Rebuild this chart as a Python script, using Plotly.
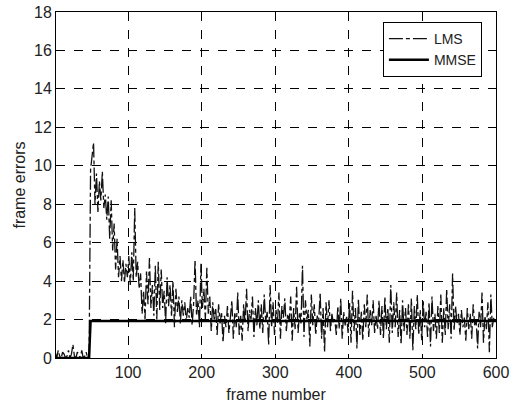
import plotly.graph_objects as go

# frame numbers (every second frame sampled)
frames = list(range(1, 601, 2))

lms_errors = [
    0.3, 0.0, 0.4, 0.1, 0.0, 0.3, 0.2, 0.0, 0.1, 0.4, 0.0, 0.2, 0.7, 0.1, 0.0, 0.3, 0.2, 0.0, 0.4, 0.0,
    0.1, 0.3, 0.0, 0.2, 9.8, 10.4, 11.2, 8.0, 9.6, 7.6, 9.2, 8.2, 9.7, 7.8, 8.5, 7.2, 8.4, 6.2, 8.2, 5.6,
    7.0, 4.6, 6.2, 4.2, 5.3, 4.0, 5.1, 3.9, 4.9, 4.2, 5.3, 3.8, 5.5, 4.0, 7.8, 4.2, 5.0, 3.6, 4.4, 2.3,
    3.5, 2.0, 4.5, 2.8, 5.2, 2.6, 3.8, 2.2, 4.8, 2.0, 5.0, 2.5, 4.6, 2.6, 3.5, 1.8, 4.2, 2.7, 3.8, 2.2,
    4.0, 1.6, 3.6, 2.4, 3.2, 1.8, 3.0, 2.2, 2.9, 1.9, 2.6, 2.1, 3.2, 1.7, 2.8, 5.1, 2.2, 3.0, 1.6, 4.9,
    2.6, 3.6, 2.0, 4.7, 2.3, 3.2, 1.4, 2.9, 2.0, 2.6, 1.2, 2.8, 1.8, 2.4, 0.8, 2.2, 1.6, 2.7, 1.3, 2.1,
    3.0, 1.0, 2.4, 1.6, 3.4, 1.2, 2.2, 0.9, 2.8, 1.8, 3.6, 1.4, 2.5, 2.0, 3.2, 1.1, 2.6, 1.7, 3.0, 1.5,
    2.8, 1.3, 3.3, 1.9, 2.4, 0.7, 3.8, 1.6, 2.9, 1.2, 2.5, 1.8, 3.4, 1.0, 2.7, 2.1, 3.1, 1.4, 2.3, 1.9,
    3.2, 0.9, 2.6, 1.5, 3.7, 1.3, 2.4, 1.8, 4.8, 1.1, 3.0, 2.0, 2.5, 0.6, 3.3, 1.7, 2.8, 1.2, 2.2, 1.9,
    3.4, 1.0, 2.6, 0.3, 2.9, 1.6, 3.0, 1.4, 2.3, 1.8, 2.0, 1.2, 2.7, 1.5, 3.1, 1.0, 2.4, 1.7, 2.2, 1.3,
    2.9, 0.8, 3.5, 1.4, 2.6, 0.5, 3.1, 1.2, 2.4, 0.9, 2.8, 1.6, 3.3, 1.1, 2.5, 1.7, 3.0, 1.3, 2.2, 1.5,
    3.0, 1.2, 2.7, 1.0, 3.2, 1.5, 2.6, 0.8, 3.8, 1.3, 2.9, 1.6, 3.4, 1.1, 2.5, 0.7, 3.0, 1.4, 2.6, 1.2,
    2.8, 1.0, 3.1, 0.4, 2.7, 1.5, 3.3, 1.2, 2.5, 0.9, 3.0, 1.6, 2.4, 1.1, 2.9, 0.6, 3.2, 1.4, 2.3, 1.0,
    2.7, 1.3, 3.3, 0.8, 2.6, 1.2, 3.6, 1.5, 2.8, 1.0, 4.4, 1.4, 2.7, 1.8, 2.3, 1.2, 2.5, 1.6, 2.1, 0.9,
    2.6, 1.5, 2.3, 1.0, 2.8, 1.7, 2.0, 0.5, 2.4, 1.6, 3.4, 0.8, 2.2, 1.5, 2.9, 0.3, 3.3, 1.6, 2.1, 1.9,
]

mmse_frames = [1, 47, 48, 49, 600]
mmse_errors = [0.0, 0.0, 1.0, 1.93, 1.93]

x_ticks = [100, 200, 300, 400, 500, 600]
y_ticks = [0, 2, 4, 6, 8, 10, 12, 14, 16, 18]

font_family = "Liberation Sans, Arial, sans-serif"
txt_color = "#222"

fig = go.Figure()
fig.add_trace(go.Scatter(
    x=frames, y=lms_errors, mode="lines", name="LMS",
    line=dict(color="#111111", width=1.3, dash="14px,3px,4px,3px"),
))
fig.add_trace(go.Scatter(
    x=mmse_frames, y=mmse_errors, mode="lines", name="MMSE",
    line=dict(color="black", width=2.5),
))

axis_common = dict(
    showgrid=True, gridcolor="black", gridwidth=1, griddash="dash",
    showline=True, linecolor="black", linewidth=1, mirror=True,
    ticks="", zeroline=False, automargin=False,
    tickfont=dict(family=font_family, size=16, color=txt_color),
    title_font=dict(family=font_family, size=16, color=txt_color),
)

fig.update_layout(
    width=513, height=403,
    margin=dict(l=56, r=17, t=12, b=45),
    paper_bgcolor="white", plot_bgcolor="white",
    font=dict(family=font_family, size=16, color=txt_color),
    xaxis=dict(range=[2, 600], tickvals=x_ticks, title=dict(text="frame number", standoff=8), **axis_common),
    yaxis=dict(range=[0, 18], tickvals=y_ticks, title=dict(text="frame errors", standoff=4), **axis_common),
    legend=dict(
        x=0.968, y=0.971, xanchor="right", yanchor="top",
        bgcolor="white", bordercolor="black", borderwidth=1,
        font=dict(family=font_family, size=14, color=txt_color),
        tracegroupgap=0, itemwidth=40,
    ),
)

fig.write_html(
    "out.html",
    config={"displayModeBar": False},
    post_script="document.body.style.margin='0';document.body.style.overflow='hidden';",
)
